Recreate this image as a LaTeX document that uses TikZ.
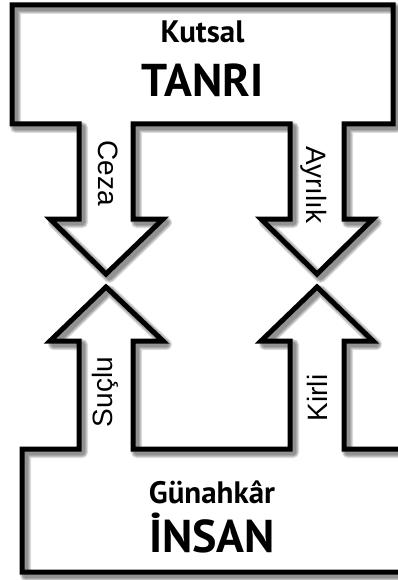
\documentclass[tikz,border=0pt]{standalone}
\usepackage{fontspec}
\setmainfont{Liberation Sans}
\newfontfamily\titlefont{PT Sans}
\begin{document}
\begin{tikzpicture}[x=1pt,y=-1pt,
  outline/.style={draw=black,line width=5pt,line join=miter,miter limit=10},
  shadowline/.style={draw=black,opacity=0.13,line join=round},
  title/.style={font=\titlefont\bfseries\fontsize{31}{31}\selectfont,anchor=base,inner sep=0pt},
  bigtitle/.style={font=\titlefont\bfseries\fontsize{46}{46}\selectfont,anchor=base,inner sep=0pt},
  sidelabel/.style={font=\fontsize{28}{28}\selectfont,inner sep=0pt}]
\useasboundingbox (0,0) rectangle (398,580);
\clip (0,0) rectangle (398,580);
\def\topshape{(12,5) -- (393,5) -- (393,124) -- (344,124) -- (344,219) -- (373,219) -- (317,274) -- (261,219) -- (290,219) -- (290,124) -- (133,124) -- (133,219) -- (163,219) -- (106,274) -- (50,219) -- (79,219) -- (79,124) -- (12,124) -- cycle}
\def\botshape{(22,449) -- (79,449) -- (79,341) -- (50,341) -- (106,287) -- (163,341) -- (133,341) -- (133,449) -- (290,449) -- (290,341) -- (261,341) -- (317,287) -- (373,341) -- (344,341) -- (344,449) -- (405,449) -- (405,572) -- (22,572) -- cycle}
% shadows
\foreach \w in {5,7,9,11}{
  \begin{scope}[shift={(3.5,3.5)}]
    \path[shadowline,line width=\w pt] \topshape;
    \path[shadowline,line width=\w pt] \botshape;
  \end{scope}
}
% outlines
\path[outline] \topshape;
\path[outline] \botshape;
% texts
\node[title] (kutsal) at (202.5,43) {Kutsal};
\node[bigtitle] (tanri) at (202.5,97) {TANRI};
\node[title] (gunahkar) at (212,503) {Günahkâr};
\node[bigtitle] (insan) at (212,552) {İNSAN};
\node[sidelabel,rotate=-90] (ceza) at (108,173) {Ceza};
\node[sidelabel,rotate=-90] (ayrilik) at (314,185) {Ayrılık};
\node[sidelabel,rotate=90] (suclu) at (105,392) {Suçlu};
\node[sidelabel,rotate=90] (kirli) at (317,398) {Kirli};
\end{tikzpicture}
\end{document}
